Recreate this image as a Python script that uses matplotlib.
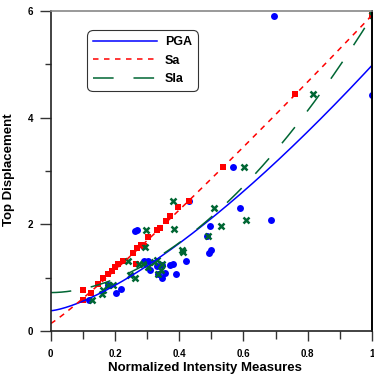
import numpy as np
import matplotlib
matplotlib.use("Agg")
import matplotlib.pyplot as plt
from matplotlib.ticker import MultipleLocator

# -----------------------------------------------------------
# data
# -----------------------------------------------------------
pga_x = [0.12, 0.179, 0.203, 0.218, 0.262, 0.27, 0.288, 0.291, 0.302, 0.309,
         0.33, 0.333, 0.345, 0.347, 0.356, 0.371, 0.38, 0.389, 0.42, 0.43,
         0.485, 0.493, 0.499, 0.496, 0.566, 0.589, 0.686, 0.695, 1.0]
pga_y = [0.59, 0.87, 0.71, 0.78, 1.88, 1.90, 1.59, 1.31, 1.31, 1.15,
         1.21, 1.06, 1.24, 0.99, 1.08, 1.23, 1.25, 1.07, 1.31, 2.44,
         1.78, 1.47, 1.51, 1.96, 3.08, 2.31, 2.08, 5.90, 4.43]

sa_x = [0.1, 0.1, 0.125, 0.146, 0.164, 0.177, 0.19, 0.2, 0.21, 0.224,
        0.255, 0.267, 0.27, 0.281, 0.29, 0.304, 0.33, 0.34, 0.36, 0.372,
        0.397, 0.43, 0.536, 0.76, 1.0]
sa_y = [0.77, 0.59, 0.72, 0.89, 1.00, 1.06, 1.12, 1.20, 1.26, 1.31,
        1.47, 1.25, 1.55, 1.61, 1.60, 1.77, 1.90, 1.94, 2.07, 2.15,
        2.32, 2.44, 3.07, 4.44, 5.92]

sia_x = [0.127, 0.159, 0.162, 0.179, 0.195, 0.242, 0.247, 0.262, 0.276, 0.286,
         0.293, 0.296, 0.304, 0.322, 0.33, 0.335, 0.345, 0.342, 0.382, 0.384,
         0.408, 0.411, 0.49, 0.508, 0.53, 0.603, 0.608, 0.817, 1.0]
sia_y = [0.59, 0.70, 0.77, 0.86, 0.87, 1.31, 1.05, 1.00, 1.25, 1.26,
         1.58, 1.89, 1.20, 1.29, 1.33, 1.07, 1.25, 1.14, 2.44, 1.91,
         1.51, 1.48, 1.78, 2.31, 1.96, 3.08, 2.09, 4.44, 5.92]

# fitted trend lines y = a + b * x**c
pga_fit = (0.38, 4.60, 1.41)
sa_fit = (0.14, 5.78, 1.09)
sia_fit = (0.72, 5.18, 1.87)

x_ticks = [0, 0.2, 0.4, 0.6, 0.8, 1]
x_tick_labels = ["0", "0.2", "0.4", "0.6", "0.8", "1"]
y_ticks = [0, 2, 4, 6]

blue = "#0000ff"
red = "#ff0000"
green = "#006633"

plt.rcParams["font.family"] = ["Liberation Sans", "DejaVu Sans"]
plt.rcParams["font.weight"] = "bold"

fig = plt.figure(figsize=(3.74, 3.74), dpi=100)
ax = fig.add_axes([0.1356, 0.115, 0.859, 0.8556])

# scatter points
ax.plot(pga_x, pga_y, "o", color=blue, markersize=5, markeredgewidth=0)
ax.plot(sa_x, sa_y, "s", color=red, markersize=5, markeredgewidth=0)
ax.plot(sia_x, sia_y, "x", color=green, markersize=4, markeredgewidth=1.8)

# trend lines
xs = np.linspace(0, 1, 300)
def fit_curve(p):
    a, b, c = p
    return a + b * xs ** c

ax.plot(xs, fit_curve(pga_fit), color=blue, lw=1.1, label="PGA")
ax.plot(xs, fit_curve(sa_fit), color=red, lw=1.1, dashes=(3.6, 3.6), label="Sa")
ax.plot(xs, fit_curve(sia_fit), color=green, lw=1.1, dashes=(13.5, 13), label="SIa")

ax.set_xlim(0, 1)
ax.set_ylim(0, 6)
ax.set_xticks(x_ticks)
ax.set_xticklabels(x_tick_labels)
ax.set_yticks(y_ticks)
ax.xaxis.set_minor_locator(MultipleLocator(0.1))
ax.yaxis.set_minor_locator(MultipleLocator(1))

ax.tick_params(axis="x", which="major", direction="out", length=7, width=1, pad=6,
               labelsize=7, color="#333333")
ax.tick_params(axis="x", which="minor", direction="out", length=5.5, width=1, color="#333333")
ax.tick_params(axis="y", which="major", direction="out", length=8, width=1, pad=4.5,
               labelsize=7, color="#333333")
ax.tick_params(axis="y", which="minor", direction="out", length=4.3, width=1, color="#333333")

for side in ["left", "bottom"]:
    ax.spines[side].set_linewidth(1.2)
    ax.spines[side].set_color("#222222")
ax.spines["right"].set_linewidth(1.4)
ax.spines["right"].set_color("black")
ax.spines["top"].set_linewidth(1.2)
ax.spines["top"].set_color("#888888")

ax.set_xlabel("Normalized Intensity Measures", fontsize=9.5, fontweight="bold")
ax.set_ylabel("Top Displacement", fontsize=9.5, fontweight="bold")
ax.xaxis.set_label_coords(0.48, -0.098)
ax.yaxis.set_label_coords(-0.11, 0.503)

leg = ax.legend(loc="upper left", bbox_to_anchor=(0.113, 0.94), fontsize=9,
                handlelength=5.1, handletextpad=0.65, labelspacing=0.5,
                borderpad=0.5, borderaxespad=0, fancybox=True, frameon=True)
leg.get_frame().set_edgecolor("black")
leg.get_frame().set_linewidth(0.8)
leg.get_frame().set_boxstyle("round", pad=0, rounding_size=0.45)
for t in leg.get_texts():
    t.set_fontweight("bold")

fig.savefig("out.png", dpi=100)
